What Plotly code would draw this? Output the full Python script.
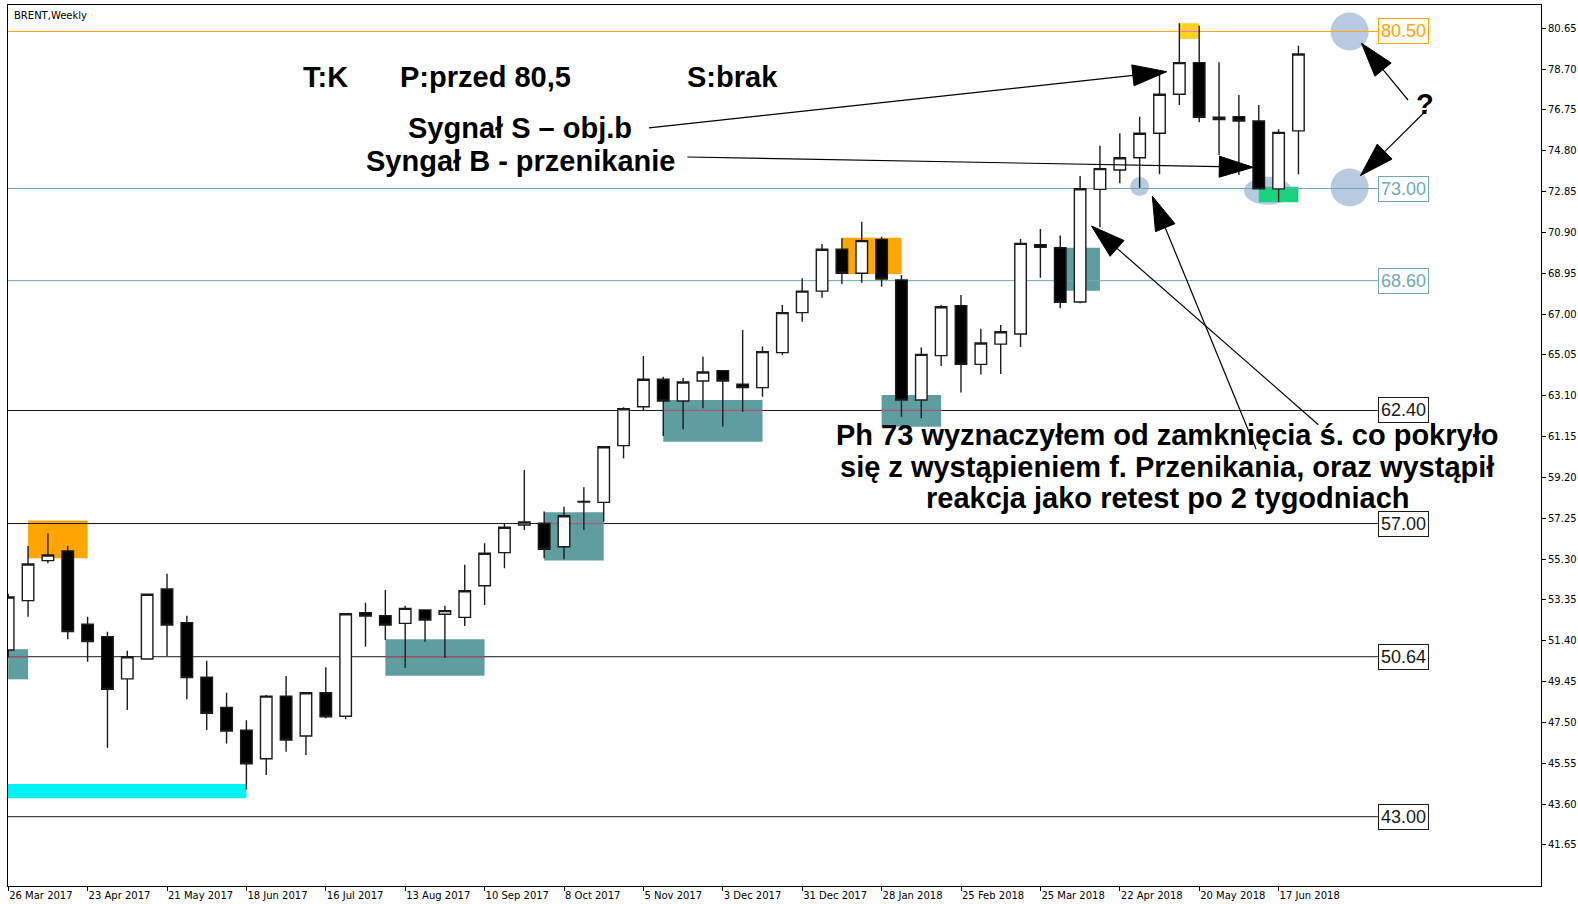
import math
import pandas as pd
import plotly.graph_objects as go

# ---------------- data ----------------
first_week = pd.Timestamp("2017-03-26")

opens = [50.96, 53.32, 55.23, 55.69, 52.19, 51.60, 49.58, 50.53, 53.87, 52.26,
         49.66, 48.22, 47.13, 45.77, 48.76, 46.85, 48.92, 47.80, 52.74, 52.60,
         52.23, 52.87, 52.67, 52.52, 54.03, 55.61, 56.93, 57.01, 55.89, 58.02,
         58.01, 60.72, 62.58, 63.89, 62.85, 63.81, 64.30, 63.65, 63.49, 65.16,
         67.07, 68.10, 70.10, 68.95, 70.57, 68.63, 62.90, 65.02, 67.40, 64.60,
         65.57, 66.05, 70.32, 70.17, 67.58, 72.96, 73.88, 74.47, 75.64, 77.50,
         79.01, 76.29, 76.43, 76.22, 72.98, 75.75]
highs = [53.65, 55.93, 56.53, 55.93, 52.55, 51.83, 50.93, 53.66, 54.60, 52.60,
         50.45, 48.92, 47.60, 48.81, 49.72, 48.95, 50.14, 52.72, 53.22, 53.83,
         53.07, 52.91, 53.07, 55.03, 56.06, 57.01, 59.56, 57.57, 57.80, 58.73,
         60.70, 62.55, 65.00, 64.01, 63.95, 64.97, 64.32, 66.24, 65.45, 67.44,
         68.71, 70.35, 70.62, 71.41, 70.70, 68.87, 65.41, 67.44, 67.91, 66.30,
         66.48, 70.59, 71.07, 70.75, 73.60, 75.04, 75.64, 76.43, 78.42, 80.89,
         80.77, 79.03, 77.46, 76.99, 75.83, 79.82]
lows = [50.60, 52.55, 55.10, 51.47, 50.40, 46.29, 48.10, 50.50, 50.67, 48.61,
        47.14, 46.50, 44.30, 44.99, 46.10, 45.95, 47.70, 47.65, 51.12, 51.44,
        50.11, 51.36, 50.59, 52.11, 53.11, 54.86, 56.69, 55.34, 55.29, 56.69,
        57.09, 60.12, 62.42, 61.18, 61.50, 62.50, 61.62, 62.34, 63.05, 65.05,
        66.64, 67.78, 68.44, 68.50, 68.31, 62.10, 62.03, 64.52, 63.26, 64.12,
        64.14, 65.43, 68.74, 67.28, 67.52, 71.15, 73.25, 73.04, 73.68, 76.99,
        76.16, 74.60, 73.64, 72.95, 72.37, 73.68]
closes = [53.49, 55.07, 55.50, 51.84, 51.36, 49.08, 50.64, 53.62, 52.15, 49.64,
          47.94, 47.09, 45.52, 48.76, 46.66, 48.92, 47.77, 52.69, 52.58, 52.15,
          52.95, 52.39, 52.84, 53.79, 55.58, 56.82, 57.07, 55.77, 57.37, 58.06,
          60.67, 62.48, 63.89, 62.85, 63.76, 64.24, 63.81, 63.49, 65.21, 67.07,
          68.10, 70.10, 68.95, 70.51, 68.68, 62.90, 65.08, 67.35, 64.60, 65.62,
          66.16, 70.38, 70.19, 67.56, 72.99, 73.95, 74.47, 75.64, 77.50, 79.01,
          76.40, 76.40, 76.22, 72.98, 75.68, 79.42]

week_ticks = ["26 Mar 2017", "23 Apr 2017", "21 May 2017", "18 Jun 2017",
              "16 Jul 2017", "13 Aug 2017", "10 Sep 2017", "8 Oct 2017",
              "5 Nov 2017", "3 Dec 2017", "31 Dec 2017", "28 Jan 2018",
              "25 Feb 2018", "25 Mar 2018", "22 Apr 2018", "20 May 2018",
              "17 Jun 2018"]
price_ticks = [80.65, 78.70, 76.75, 74.80, 72.85, 70.90, 68.95, 67.00, 65.05,
               63.10, 61.15, 59.20, 57.25, 55.30, 53.35, 51.40, 49.45, 47.50,
               45.55, 43.60, 41.65]

level_prices = [80.50, 73.00, 68.60, 62.40, 57.00, 50.64, 43.00]
level_labels = ["80.50", "73.00", "68.60", "62.40", "57.00", "50.64", "43.00"]

# zones: first week, last week, bottom price, top price, kind
zone_start = [0, 1, -3, 19, 27, 33, 42, 44, 53, 59, 63]
zone_end = [1, 4, 12, 24, 30, 38, 45, 47, 55, 60, 65]
zone_low = [49.56, 55.34, 43.88, 49.73, 55.23, 60.91, 68.92, 61.62, 68.12, 80.14, 72.34]
zone_high = [51.00, 57.14, 44.56, 51.47, 57.54, 62.90, 70.65, 63.14, 70.17, 80.89, 73.08]
zone_kind = ["teal", "orange", "cyan", "teal", "teal", "teal", "orange", "teal",
             "teal", "gold", "green"]

# marker ellipses: week position, price, pixel radii
mark_week = [57, 63.46, 67.58, 67.58]
mark_price = [73.09, 72.89, 80.50, 73.05]
mark_rx = [9.5, 24, 19, 19]
mark_ry = [9.5, 14, 19, 19]

# ---------------- styling ----------------
ZONE_COLORS = {"teal": "#5F9EA0", "orange": "#FFA500", "cyan": "#00F2F2",
               "gold": "#FFD21F", "green": "#1AD27F"}
LEVEL_COLORS = {"80.50": "#FFA500", "73.00": "#6FA9AD", "68.60": "#6FA9AD"}
DARK = "#1a1a1a"

PLOT_L, PLOT_R, PLOT_T, PLOT_B = 8, 1541, 5, 886
PX_PER_WEEK = 19.85


def at_week(k):
    return first_week + pd.Timedelta(days=7 * k)


def px(X):
    return (X - PLOT_L) / (PLOT_R - PLOT_L)


def py(Y):
    return (PLOT_B - Y) / (PLOT_B - PLOT_T)


weeks = [at_week(k) for k in range(len(opens))]
tick_dates = pd.to_datetime(week_ticks, format="%d %b %Y")

fig = go.Figure()
fig.add_trace(go.Candlestick(
    x=weeks, open=opens, high=highs, low=lows, close=closes,
    increasing=dict(fillcolor="#ffffff", line=dict(color=DARK, width=1.4)),
    decreasing=dict(fillcolor="#000000", line=dict(color=DARK, width=1.4)),
    showlegend=False, hoverinfo="skip",
))

shapes = []
# ellipses first, so the zones sit on top of them
for wk, pr, rx, ry in zip(mark_week, mark_price, mark_rx, mark_ry):
    shapes.append(dict(type="circle", xref="x", yref="y", xsizemode="pixel", ysizemode="pixel",
                       xanchor=at_week(wk), yanchor=pr, x0=-rx, x1=rx, y0=-ry, y1=ry,
                       fillcolor="rgba(176,196,222,0.9)", line=dict(width=0), layer="below"))

# zones
for s, e, lo, hi, kind in zip(zone_start, zone_end, zone_low, zone_high, zone_kind):
    shapes.append(dict(type="rect", xref="x", yref="y", x0=at_week(s), x1=at_week(e),
                       y0=lo, y1=hi, fillcolor=ZONE_COLORS[kind], line=dict(width=0),
                       layer="below"))

# horizontal levels, ending at the price boxes
box_week = 69
for price, lab in zip(level_prices, level_labels):
    col = LEVEL_COLORS.get(lab, DARK)
    shapes.append(dict(type="line", xref="x", yref="y", x0=at_week(-2), x1=at_week(box_week),
                       y0=price, y1=price, line=dict(color=col, width=1), layer="below"))
    # where a dark or orange level crosses a zone, the line shows reddish
    for s, e, lo, hi, kind in zip(zone_start, zone_end, zone_low, zone_high, zone_kind):
        if kind in ("teal", "gold") and lo <= price <= hi and col != "#6FA9AD":
            seg = "#C8507A" if kind == "teal" else "#FF70C8"
            shapes.append(dict(type="line", xref="x", yref="y", x0=at_week(s), x1=at_week(e),
                               y0=price, y1=price, line=dict(color=seg, width=1),
                               layer="below"))

# arrows (pixel positions of tail and tip)
arrows = [
    ((649, 127.8), (1166.7, 71.7)),
    ((687.4, 157.0), (1253.3, 167.3)),
    ((1318.4, 424.7), (1091.5, 226.0)),
    ((1256.0, 449.0), (1152.3, 196.2)),
    ((1408.0, 100.0), (1361.5, 43.3)),
    ((1426.7, 110.0), (1360.5, 175.5)),
]
HEAD_LEN, HEAD_HALF = 34, 10.5
for (tx, ty), (hx, hy) in arrows:
    dx, dy = hx - tx, hy - ty
    d = math.hypot(dx, dy)
    ux, uy = dx / d, dy / d
    bx, by = hx - HEAD_LEN * ux, hy - HEAD_LEN * uy
    nx, ny = -uy, ux
    shapes.append(dict(type="line", xref="paper", yref="paper",
                       x0=px(tx), y0=py(ty), x1=px(bx), y1=py(by),
                       line=dict(color="#000", width=1.2), layer="above"))
    p1 = (bx + HEAD_HALF * nx, by + HEAD_HALF * ny)
    p2 = (bx - HEAD_HALF * nx, by - HEAD_HALF * ny)
    path = (f"M{px(hx)},{py(hy)} L{px(p1[0])},{py(p1[1])} "
            f"L{px(p2[0])},{py(p2[1])} Z")
    shapes.append(dict(type="path", xref="paper", yref="paper", path=path,
                       fillcolor="#000", line=dict(color="#000", width=1), layer="above"))

annotations = []
# price boxes
for price, lab in zip(level_prices, level_labels):
    col = LEVEL_COLORS.get(lab, DARK)
    annotations.append(dict(x=at_week(box_week), y=price, xref="x", yref="y",
                            text=lab, showarrow=False, xanchor="left", yanchor="middle",
                            font=dict(family="Liberation Sans", size=18, color=col),
                            bgcolor="#ffffff", bordercolor=col, borderwidth=1, borderpad=2))

# bold notes (pixel centres)
notes = [
    ("T:K", 325.5, 77),
    ("P:przed 80,5", 485.5, 77),
    ("S:brak", 732.5, 77),
    ("Sygnał S – obj.b", 520.3, 128.3),
    ("Syngał B - przenikanie", 520.0, 161),
    ("Ph 73 wyznaczyłem od zamknięcia ś. co pokryło", 1167, 434.8),
    ("się z wystąpieniem f. Przenikania, oraz wystąpił", 1167, 466.5),
    ("reakcja jako retest po 2 tygodniach", 1167.5, 498),
    ("?", 1425, 103.7),
]
for txt, X, Y in notes:
    annotations.append(dict(x=px(X), y=py(Y), xref="paper", yref="paper",
                            text=f"<b>{txt}</b>", showarrow=False,
                            xanchor="center", yanchor="middle",
                            font=dict(family="Liberation Sans", size=29, color="#000")))

annotations.append(dict(x=px(12), y=py(15), xref="paper", yref="paper",
                        text="BRENT,Weekly", showarrow=False, xanchor="left",
                        yanchor="middle", font=dict(family="DejaVu Sans", size=10, color="#000")))

x_lo = -0.01
x_hi = x_lo + (PLOT_R - PLOT_L) / PX_PER_WEEK

fig.update_layout(
    width=1578, height=904, autosize=False,
    margin=dict(l=PLOT_L, r=1578 - PLOT_R, t=PLOT_T, b=904 - PLOT_B),
    paper_bgcolor="#ffffff", plot_bgcolor="#ffffff",
    boxgap=0.42, boxgroupgap=0,
    shapes=shapes, annotations=annotations,
    hovermode=False,
    xaxis=dict(
        type="date", range=[at_week(x_lo), at_week(x_hi)],
        rangeslider=dict(visible=False),
        tickmode="array", tickvals=tick_dates, ticktext=week_ticks,
        ticks="outside", ticklen=4, tickcolor="#000", tickwidth=1,
        ticklabelposition="outside right",
        tickfont=dict(family="DejaVu Sans", size=10, color="#000"),
        showgrid=False, zeroline=False,
        showline=True, linecolor="#000", linewidth=1, mirror=True,
        automargin=False,
    ),
    yaxis=dict(
        side="right", range=[39.69, 81.763],
        tickmode="array", tickvals=price_ticks,
        ticktext=[f"{v:.2f}" for v in price_ticks],
        ticks="outside", ticklen=4, tickcolor="#000", tickwidth=1,
        tickfont=dict(family="DejaVu Sans", size=10, color="#000"),
        showgrid=False, zeroline=False,
        showline=True, linecolor="#000", linewidth=1, mirror=True,
        automargin=False,
    ),
)

fig.write_html("out.html")
